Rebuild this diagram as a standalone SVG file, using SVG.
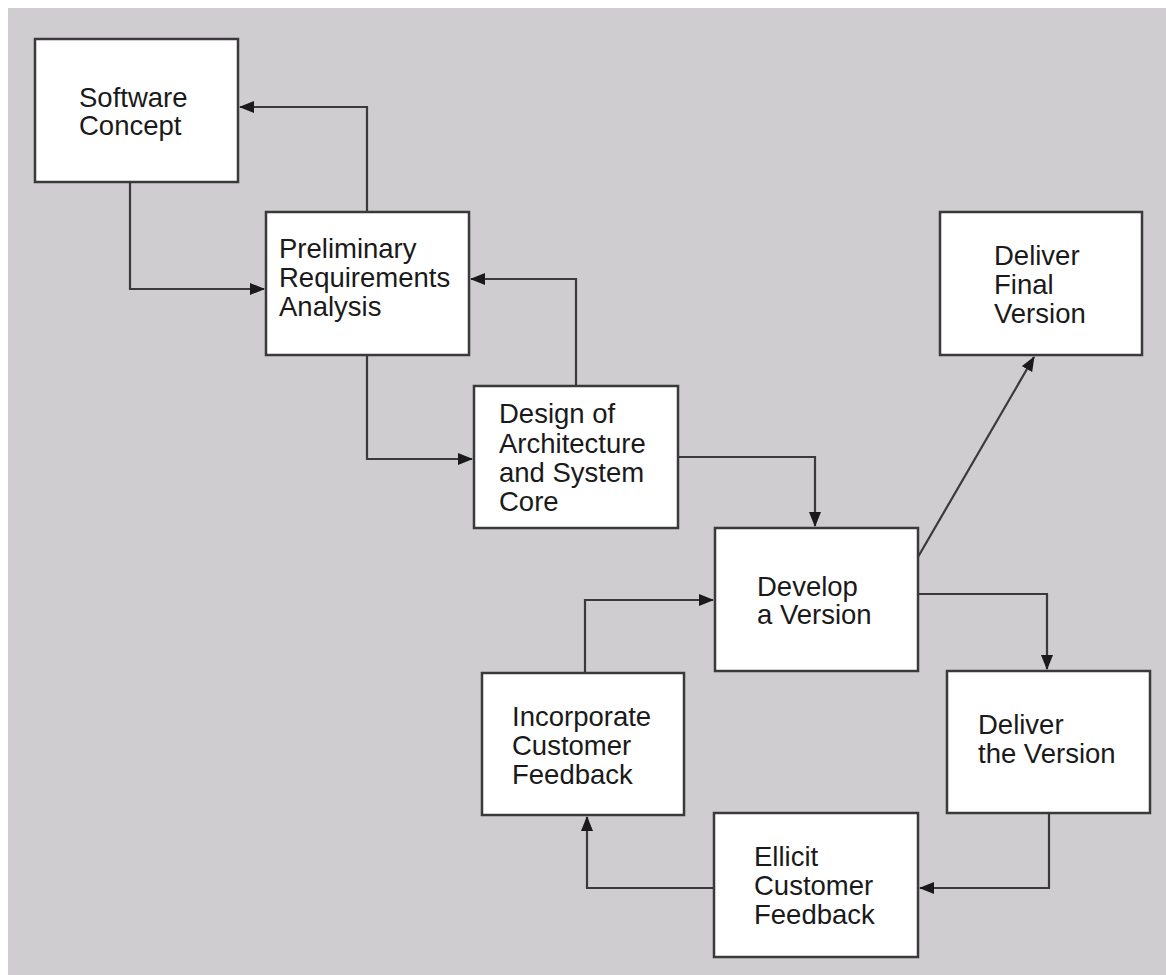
<svg xmlns="http://www.w3.org/2000/svg" width="1166" height="975" viewBox="0 0 1166 975">
<style>
.box{fill:#ffffff;stroke:#3a3a3a;stroke-width:2.5}
.lbl{font-family:"Liberation Sans",Arial,sans-serif;font-size:27.5px;fill:#1a1a1a}
.conn{fill:none;stroke:#3a3a3a;stroke-width:2.2}
</style>
<defs>
<marker id="arr" markerUnits="userSpaceOnUse" markerWidth="16" markerHeight="12" refX="14" refY="6" orient="auto">
<path d="M0,0 L15,6 L0,12 Z" fill="#1a1a1a"/>
</marker>
</defs>
<rect x="0" y="0" width="1166" height="975" fill="#ffffff"/>
<rect x="8" y="8" width="1158" height="967" fill="#cfcdd0"/>
<g id="connectors">
<path class="conn" d="M367,212 V107 H240" marker-end="url(#arr)"/>
<path class="conn" d="M130,182 V289 H264" marker-end="url(#arr)"/>
<path class="conn" d="M576,386 V279 H471" marker-end="url(#arr)"/>
<path class="conn" d="M367,355 V459 H472" marker-end="url(#arr)"/>
<path class="conn" d="M678,457 H815 V526" marker-end="url(#arr)"/>
<path class="conn" d="M918,557 L1034,357" marker-end="url(#arr)"/>
<path class="conn" d="M918,594 H1047 V669" marker-end="url(#arr)"/>
<path class="conn" d="M1049,813 V888 H920" marker-end="url(#arr)"/>
<path class="conn" d="M714,888 H587 V817" marker-end="url(#arr)"/>
<path class="conn" d="M585,673 V600 H713" marker-end="url(#arr)"/>
</g>
<g id="software-concept">
<rect class="box" x="35" y="39" width="203" height="143"/>
<text class="lbl" x="79" y="107">Software</text>
<text class="lbl" x="79" y="135">Concept</text>
</g>
<g id="preliminary-requirements">
<rect class="box" x="266" y="212" width="203" height="143"/>
<text class="lbl" x="279" y="258">Preliminary</text>
<text class="lbl" x="279" y="287">Requirements</text>
<text class="lbl" x="279" y="316">Analysis</text>
</g>
<g id="design-architecture">
<rect class="box" x="474" y="386" width="204" height="142"/>
<text class="lbl" x="499" y="423">Design of</text>
<text class="lbl" x="499" y="453">Architecture</text>
<text class="lbl" x="499" y="482">and System</text>
<text class="lbl" x="499" y="511">Core</text>
</g>
<g id="develop-version">
<rect class="box" x="715" y="528" width="203" height="143"/>
<text class="lbl" x="757" y="596">Develop</text>
<text class="lbl" x="757" y="624">a Version</text>
</g>
<g id="deliver-final">
<rect class="box" x="940" y="212" width="202" height="143"/>
<text class="lbl" x="994" y="265">Deliver</text>
<text class="lbl" x="994" y="294">Final</text>
<text class="lbl" x="994" y="323">Version</text>
</g>
<g id="deliver-version">
<rect class="box" x="947" y="671" width="203" height="142"/>
<text class="lbl" x="978" y="734">Deliver</text>
<text class="lbl" x="978" y="763">the Version</text>
</g>
<g id="elicit-feedback">
<rect class="box" x="714" y="813" width="204" height="144"/>
<text class="lbl" x="754" y="866">Ellicit</text>
<text class="lbl" x="754" y="895">Customer</text>
<text class="lbl" x="754" y="924">Feedback</text>
</g>
<g id="incorporate-feedback">
<rect class="box" x="482" y="673" width="202" height="142"/>
<text class="lbl" x="512" y="726">Incorporate</text>
<text class="lbl" x="512" y="755">Customer</text>
<text class="lbl" x="512" y="784">Feedback</text>
</g>
</svg>
